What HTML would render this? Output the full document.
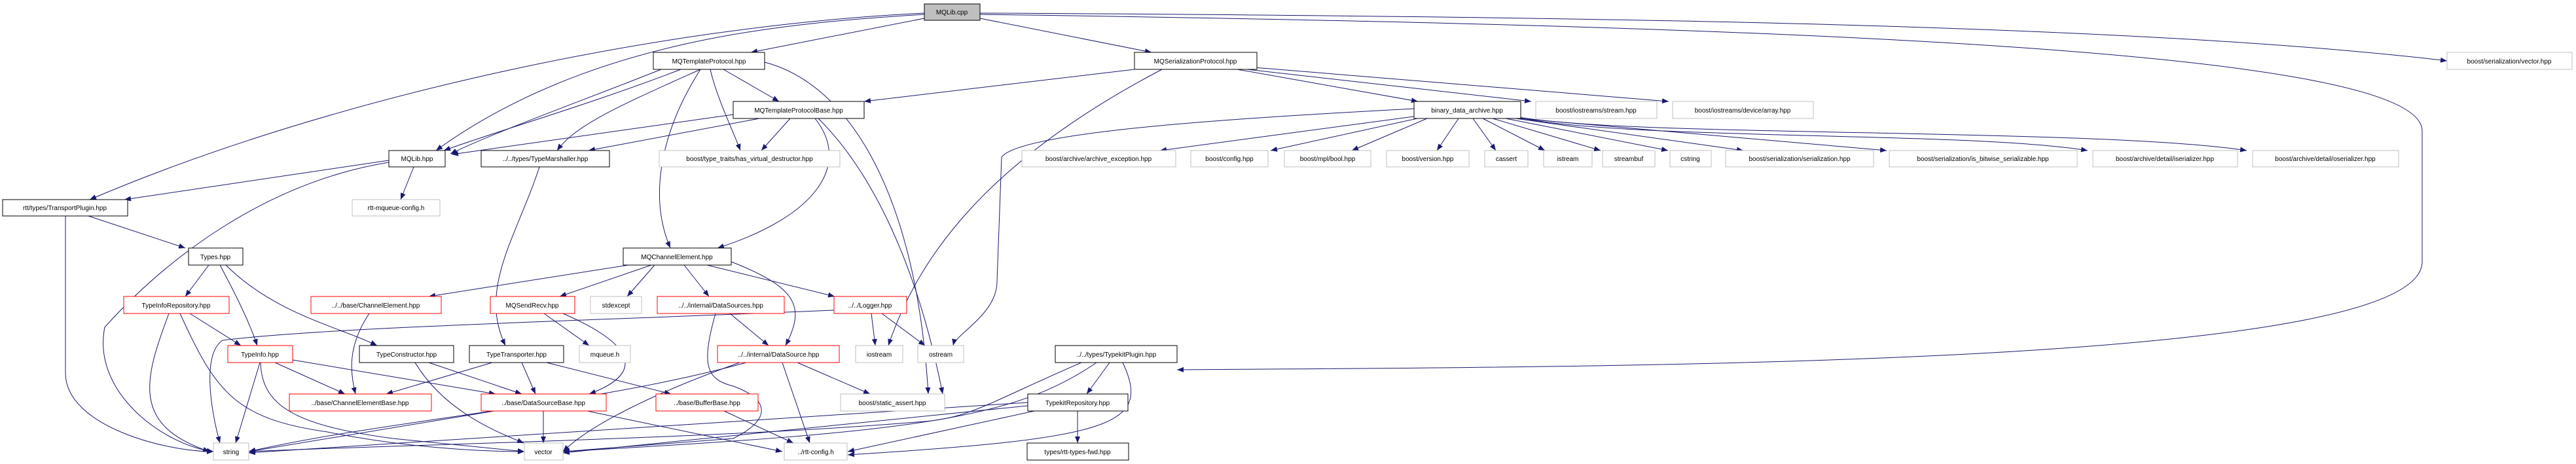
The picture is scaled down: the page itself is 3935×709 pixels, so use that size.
<!DOCTYPE html>
<html><head><meta charset="utf-8"><style>
html,body{margin:0;padding:0;background:#fff;}
svg{display:block}
text{font-family:"Liberation Sans",Arial,sans-serif;font-size:10px;fill:#000;text-anchor:middle}
.e{fill:none;stroke:#191970;stroke-width:1;marker-end:url(#a)}
.n{fill:#fff;stroke:#000;stroke-width:1}
.g{fill:#fff;stroke:#bfbfbf;stroke-width:1}
.r{fill:#fff;stroke:#ff0000;stroke-width:1}
</style></head><body>
<svg width="3935" height="709" viewBox="0 0 3935 709" xmlns="http://www.w3.org/2000/svg">
<defs><marker id="a" markerUnits="userSpaceOnUse" markerWidth="11" markerHeight="8" refX="10" refY="4" orient="auto"><path d="M0,0 L10,4 L0,8 z" fill="#191970"/></marker></defs>
<g>
<path class="e" d="M1412,28 L1147,80"/>
<path class="e" d="M1497,28 L1759,80"/>
<path class="e" d="M1412,22 C1200,35 900,60 666,230"/>
<path class="e" d="M1412,20 C1000,40 500,150 137,305"/>
<path class="e" d="M1497,20 C2500,25 3300,40 3738,93"/>
<path class="e" d="M1497,22 C2800,40 3700,80 3700,200 L3700,400 C3700,560 2500,560 1798,565"/>
<path class="e" d="M1040,106 C900,160 760,200 678,230"/>
<path class="e" d="M1010,106 C900,150 760,200 688,235"/>
<path class="e" d="M1070,106 C950,160 880,190 851,230"/>
<path class="e" d="M1105,106 L1190,155"/>
<path class="e" d="M1085,106 C1095,150 1120,200 1131,230"/>
<path class="e" d="M1070,106 C1010,200 990,300 1024,379"/>
<path class="e" d="M1168,95 C1300,130 1400,300 1418,602"/>
<path class="e" d="M1120,175 L690,236"/>
<path class="e" d="M1160,181 L899,230"/>
<path class="e" d="M1207,181 L1163,230"/>
<path class="e" d="M1245,181 C1300,250 1250,330 1096,379"/>
<path class="e" d="M1250,181 C1330,260 1400,400 1440,602"/>
<path class="e" d="M1733,106 L1320,155"/>
<path class="e" d="M1890,106 L2166,155"/>
<path class="e" d="M1905,106 L2339,155"/>
<path class="e" d="M1915,103 L2549,155"/>
<path class="e" d="M1775,106 C1500,250 1400,400 1357,528"/>
<path class="e" d="M2160,166 C1900,180 1560,200 1530,240 L1523,430 C1523,480 1460,510 1456,528"/>
<path class="e" d="M2160,178 L1772,230"/>
<path class="e" d="M2165,181 L1941,230"/>
<path class="e" d="M2180,181 L2065,230"/>
<path class="e" d="M2228,181 L2195,230"/>
<path class="e" d="M2250,181 L2285,230"/>
<path class="e" d="M2265,181 L2360,230"/>
<path class="e" d="M2280,181 L2445,230"/>
<path class="e" d="M2300,181 L2548,230"/>
<path class="e" d="M2315,181 L2663,230"/>
<path class="e" d="M2320,181 L2882,230"/>
<path class="e" d="M2320,180 C2500,215 3000,200 3189,230"/>
<path class="e" d="M2320,179 C2500,210 3200,195 3432,230"/>
<path class="e" d="M594,245 L190,305"/>
<path class="e" d="M632,255 L612,305"/>
<path class="e" d="M594,248 C400,280 250,400 160,500 C140,600 250,680 326,690"/>
<path class="e" d="M824,255 C790,360 730,440 772,528"/>
<path class="e" d="M100,330 L100,570 C100,650 250,690 326,690"/>
<path class="e" d="M135,330 L283,379"/>
<path class="e" d="M319,405 L283,453"/>
<path class="e" d="M336,405 C360,450 380,490 393,528"/>
<path class="e" d="M345,405 C420,480 520,500 576,528"/>
<path class="e" d="M258,479 C220,580 200,650 320,690"/>
<path class="e" d="M275,479 C330,600 360,640 500,660 C650,690 780,690 801,690"/>
<path class="e" d="M290,479 L368,528"/>
<path class="e" d="M960,405 L655,453"/>
<path class="e" d="M995,405 L855,453"/>
<path class="e" d="M1000,405 L958,453"/>
<path class="e" d="M1045,405 L1083,453"/>
<path class="e" d="M1080,405 L1275,453"/>
<path class="e" d="M1117,400 C1220,440 1230,470 1200,528"/>
<path class="e" d="M564,479 C530,530 535,570 543,602"/>
<path class="e" d="M831,479 L900,528"/>
<path class="e" d="M860,479 C1000,540 960,580 900,602"/>
<path class="e" d="M397,554 L360,677"/>
<path class="e" d="M398,554 C400,620 450,650 600,670 L801,690"/>
<path class="e" d="M420,554 L527,602"/>
<path class="e" d="M447,550 L757,602"/>
<path class="e" d="M634,554 C680,630 760,660 800,677"/>
<path class="e" d="M655,554 L797,602"/>
<path class="e" d="M752,554 L590,602"/>
<path class="e" d="M797,554 L818,602"/>
<path class="e" d="M835,554 L1025,602"/>
<path class="e" d="M1115,479 L1174,528"/>
<path class="e" d="M1093,479 C1070,560 1080,580 1120,590 C1175,610 1180,640 1120,670 L860,690"/>
<path class="e" d="M1274,474 C900,490 500,500 340,520 C310,540 320,620 336,677"/>
<path class="e" d="M1331,479 L1337,528"/>
<path class="e" d="M1347,479 L1413,528"/>
<path class="e" d="M1140,554 C900,620 600,640 380,690"/>
<path class="e" d="M1130,554 C1000,600 900,650 860,690"/>
<path class="e" d="M1195,554 L1237,677"/>
<path class="e" d="M1218,554 L1329,602"/>
<path class="e" d="M755,628 L380,690"/>
<path class="e" d="M830,628 L830,677"/>
<path class="e" d="M897,628 L1195,690"/>
<path class="e" d="M1106,628 L1212,677"/>
<path class="e" d="M1652,554 C1500,620 1480,640 1400,645 C1100,670 600,680 380,690"/>
<path class="e" d="M1675,554 C1550,640 1400,660 860,690"/>
<path class="e" d="M1695,554 L1660,602"/>
<path class="e" d="M1715,554 C1760,650 1700,670 1295,695"/>
<path class="e" d="M1570,615 L380,692"/>
<path class="e" d="M1570,620 L860,692"/>
<path class="e" d="M1580,628 L1295,690"/>
<path class="e" d="M1646,628 L1646,677"/>
</g>
<g>
<rect x="1412" y="6" width="85" height="25" fill="#bfbfbf" stroke="#000"/><text x="1454" y="22">MQLib.cpp</text>
<rect class="n" x="998" y="80" width="170" height="26"/><text x="1083" y="97">MQTemplateProtocol.hpp</text>
<rect class="n" x="1733" y="80" width="187" height="26"/><text x="1826" y="97">MQSerializationProtocol.hpp</text>
<rect class="g" x="3738" y="80" width="191" height="26"/><text x="3833" y="97">boost/serialization/vector.hpp</text>
<rect class="n" x="1120" y="155" width="200" height="26"/><text x="1220" y="172">MQTemplateProtocolBase.hpp</text>
<rect class="n" x="2160" y="155" width="163" height="26"/><text x="2241" y="172">binary_data_archive.hpp</text>
<rect class="g" x="2346" y="155" width="185" height="26"/><text x="2438" y="172">boost/iostreams/stream.hpp</text>
<rect class="g" x="2555" y="155" width="215" height="26"/><text x="2662" y="172">boost/iostreams/device/array.hpp</text>
<rect class="n" x="594" y="230" width="86" height="25"/><text x="637" y="246">MQLib.hpp</text>
<rect class="n" x="735" y="230" width="196" height="25"/><text x="833" y="246">../../types/TypeMarshaller.hpp</text>
<rect class="g" x="1007" y="230" width="276" height="25"/><text x="1145" y="246">boost/type_traits/has_virtual_destructor.hpp</text>
<rect class="g" x="1561" y="230" width="235" height="25"/><text x="1678" y="246">boost/archive/archive_exception.hpp</text>
<rect class="g" x="1819" y="230" width="118" height="25"/><text x="1878" y="246">boost/config.hpp</text>
<rect class="g" x="1962" y="230" width="132" height="25"/><text x="2028" y="246">boost/mpl/bool.hpp</text>
<rect class="g" x="2118" y="230" width="126" height="25"/><text x="2181" y="246">boost/version.hpp</text>
<rect class="g" x="2268" y="230" width="66" height="25"/><text x="2301" y="246">cassert</text>
<rect class="g" x="2358" y="230" width="74" height="25"/><text x="2395" y="246">istream</text>
<rect class="g" x="2448" y="230" width="80" height="25"/><text x="2488" y="246">streambuf</text>
<rect class="g" x="2551" y="230" width="63" height="25"/><text x="2582" y="246">cstring</text>
<rect class="g" x="2636" y="230" width="226" height="25"/><text x="2749" y="246">boost/serialization/serialization.hpp</text>
<rect class="g" x="2886" y="230" width="287" height="25"/><text x="3029" y="246">boost/serialization/is_bitwise_serializable.hpp</text>
<rect class="g" x="3197" y="230" width="221" height="25"/><text x="3307" y="246">boost/archive/detail/iserializer.hpp</text>
<rect class="g" x="3441" y="230" width="223" height="25"/><text x="3552" y="246">boost/archive/detail/oserializer.hpp</text>
<rect class="n" x="4" y="305" width="191" height="25"/><text x="99" y="321">rtt/types/TransportPlugin.hpp</text>
<rect class="g" x="538" y="305" width="134" height="25"/><text x="605" y="321">rtt-mqueue-config.h</text>
<rect class="n" x="288" y="379" width="83" height="26"/><text x="329" y="396">Types.hpp</text>
<rect class="n" x="952" y="379" width="165" height="26"/><text x="1034" y="396">MQChannelElement.hpp</text>
<rect class="r" x="189" y="453" width="161" height="26"/><text x="269" y="470">TypeInfoRepository.hpp</text>
<rect class="r" x="475" y="453" width="199" height="26"/><text x="574" y="470">../../base/ChannelElement.hpp</text>
<rect class="r" x="749" y="453" width="129" height="26"/><text x="813" y="470">MQSendRecv.hpp</text>
<rect class="g" x="902" y="453" width="78" height="26"/><text x="941" y="470">stdexcept</text>
<rect class="r" x="1004" y="453" width="194" height="26"/><text x="1101" y="470">../../internal/DataSources.hpp</text>
<rect class="r" x="1274" y="453" width="111" height="26"/><text x="1329" y="470">../../Logger.hpp</text>
<rect class="r" x="348" y="528" width="99" height="26"/><text x="397" y="545">TypeInfo.hpp</text>
<rect class="n" x="549" y="528" width="144" height="26"/><text x="621" y="545">TypeConstructor.hpp</text>
<rect class="n" x="717" y="528" width="144" height="26"/><text x="789" y="545">TypeTransporter.hpp</text>
<rect class="g" x="885" y="528" width="78" height="26"/><text x="924" y="545">mqueue.h</text>
<rect class="r" x="1096" y="528" width="186" height="26"/><text x="1189" y="545">../../internal/DataSource.hpp</text>
<rect class="g" x="1307" y="528" width="72" height="26"/><text x="1343" y="545">iostream</text>
<rect class="g" x="1402" y="528" width="70" height="26"/><text x="1437" y="545">ostream</text>
<rect class="n" x="1612" y="528" width="186" height="26"/><text x="1705" y="545">../../types/TypekitPlugin.hpp</text>
<rect class="r" x="442" y="602" width="217" height="26"/><text x="550" y="619">../base/ChannelElementBase.hpp</text>
<rect class="r" x="735" y="602" width="191" height="26"/><text x="830" y="619">../base/DataSourceBase.hpp</text>
<rect class="r" x="1002" y="602" width="156" height="26"/><text x="1080" y="619">../base/BufferBase.hpp</text>
<rect class="g" x="1284" y="602" width="159" height="26"/><text x="1363" y="619">boost/static_assert.hpp</text>
<rect class="n" x="1570" y="602" width="153" height="26"/><text x="1646" y="619">TypekitRepository.hpp</text>
<rect class="g" x="326" y="677" width="54" height="26"/><text x="353" y="694">string</text>
<rect class="g" x="801" y="677" width="59" height="26"/><text x="830" y="694">vector</text>
<rect class="g" x="1198" y="677" width="96" height="26"/><text x="1246" y="694">../rtt-config.h</text>
<rect class="n" x="1569" y="677" width="155" height="26"/><text x="1646" y="694">types/rtt-types-fwd.hpp</text>
</g>
</svg>
</body></html>
